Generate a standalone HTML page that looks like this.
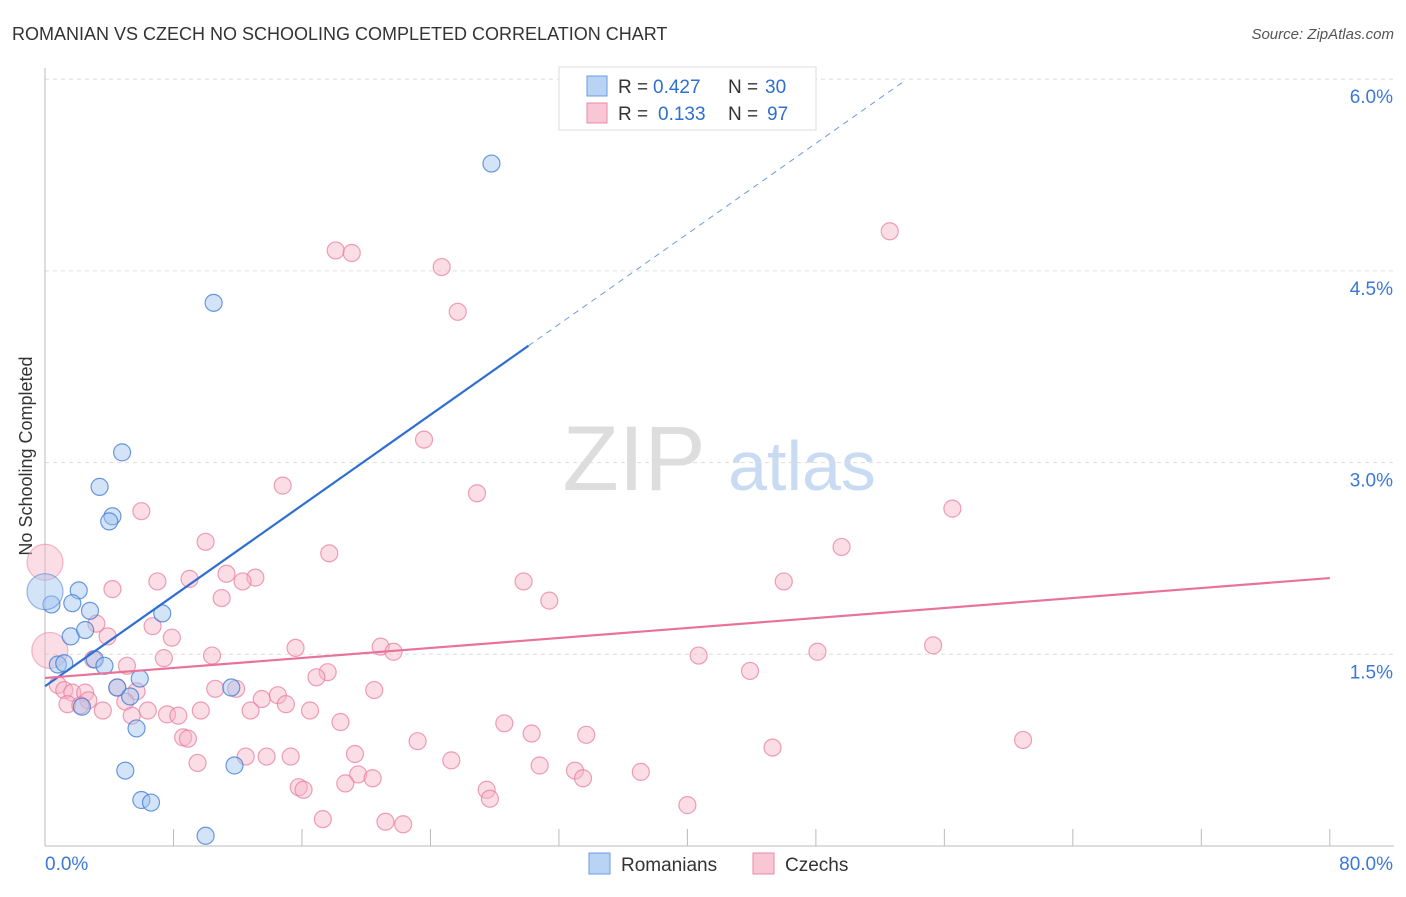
<!DOCTYPE html>
<html><head><meta charset="utf-8"><style>
body{margin:0;background:#fff;font-family:"Liberation Sans",sans-serif;}
svg text{font-family:"Liberation Sans",sans-serif;}
</style></head><body>
<svg id="chart" width="1406" height="892" xmlns="http://www.w3.org/2000/svg">
<text x="12" y="40" font-size="18" fill="#333">ROMANIAN VS CZECH NO SCHOOLING COMPLETED CORRELATION CHART</text>
<text x="1394" y="39" font-size="15" fill="#555" font-style="italic" text-anchor="end">Source: ZipAtlas.com</text>
<text x="32" y="456" font-size="18" fill="#333" text-anchor="middle" transform="rotate(-90 32 456)">No Schooling Completed</text>
<g><text x="634" y="490" font-size="92" fill="#ddd" font-family="Liberation Serif" text-anchor="middle">ZIP</text><text x="802" y="490" font-size="70" fill="#c9dbf2" text-anchor="middle">atlas</text></g>
<g id="grid"></g><g id="axes"></g><g id="pts"></g><g id="lines"></g>
<g>
<rect x="559" y="67" width="257" height="63" fill="#fff" stroke="#ddd"/>
<rect x="587" y="76" width="20" height="20" fill="#b9d3f5" stroke="#6a9be0"/>
<rect x="587" y="103" width="20" height="20" fill="#f8c6d4" stroke="#e88aa6"/>
<text x="618" y="93" font-size="19" fill="#333">R =</text>
<text x="653" y="93" font-size="19" fill="#2f6fd1">0.427</text>
<text x="728" y="93" font-size="19" fill="#333">N =</text>
<text x="765" y="93" font-size="19" fill="#2f6fd1">30</text>
<text x="618" y="120" font-size="19" fill="#333">R =</text>
<text x="658" y="120" font-size="19" fill="#2f6fd1">0.133</text>
<text x="728" y="120" font-size="19" fill="#333">N =</text>
<text x="767" y="120" font-size="19" fill="#2f6fd1">97</text>
</g>
<g>
<rect x="589" y="853" width="21" height="21" fill="#b9d3f5" stroke="#6a9be0"/>
<text x="621" y="871" font-size="19" fill="#333">Romanians</text>
<rect x="753" y="853" width="21" height="21" fill="#f8c6d4" stroke="#e88aa6"/>
<text x="785" y="871" font-size="19" fill="#333">Czechs</text>
</g>
</svg>
<script>
const xTicks=[0,8,16,24,32,40,48,56,64,72,80];
const yTicks=[1.5,3.0,4.5,6.0];
const romX=[27.8,10.5,4.8,3.4,4.2,4.0,2.1,0.4,1.7,2.8,7.3,1.6,2.5,0.8,1.2,3.1,3.7,5.9,4.5,5.3,2.3,11.6,5.7,5.0,11.8,6.0,6.6,10.0];
const romY=[5.34,4.25,3.08,2.81,2.58,2.54,2.0,1.89,1.90,1.84,1.82,1.64,1.69,1.42,1.43,1.46,1.41,1.31,1.24,1.17,1.09,1.24,0.92,0.59,0.63,0.36,0.34,0.08];
const czX=[52.6,18.1,19.1,24.7,25.7,23.6,14.8,26.9,56.5,6.0,10.0,17.7,49.6,7.0,9.0,11.3,13.1,12.3,29.8,46.0,4.2,11.0,31.4,6.7,3.2,7.9,3.9,20.9,21.7,15.6,10.4,7.4,40.7,48.1,55.3,43.9,5.1,17.6,16.9,3.0,0.8,1.2,1.7,2.5,2.7,1.4,2.2,3.6,4.5,5.7,5.0,6.4,5.4,7.6,8.3,9.7,10.6,11.9,13.5,14.5,15.0,12.8,16.5,20.5,18.4,28.6,30.3,33.7,8.6,8.9,23.2,45.3,60.9,12.5,13.8,15.3,19.3,9.5,25.3,30.8,19.5,20.4,18.7,33.0,33.5,37.1,15.8,16.1,27.5,27.7,40.0,17.3,21.2,22.3];
const czY=[4.81,4.66,4.64,4.53,4.18,3.18,2.82,2.76,2.64,2.62,2.38,2.29,2.34,2.07,2.09,2.13,2.10,2.07,2.07,2.07,2.01,1.94,1.92,1.72,1.74,1.63,1.64,1.56,1.52,1.55,1.49,1.47,1.49,1.52,1.57,1.37,1.41,1.36,1.32,1.46,1.26,1.22,1.20,1.20,1.14,1.11,1.10,1.06,1.24,1.21,1.13,1.06,1.02,1.03,1.02,1.06,1.23,1.23,1.15,1.18,1.11,1.06,1.06,1.22,0.97,0.96,0.88,0.87,0.85,0.84,0.82,0.77,0.83,0.70,0.70,0.70,0.72,0.65,0.67,0.63,0.56,0.53,0.49,0.59,0.53,0.58,0.46,0.44,0.44,0.37,0.32,0.21,0.19,0.17];
const bigRomX=[0.0], bigRomY=[1.99];
const bigCzX=[0.0,0.3], bigCzY=[2.22,1.53];
const romTrend=[1.25,0.0885], romSolidEnd=30.1, romDashEnd=53.6;
const czTrend=[1.315,0.00977], czEnd=80;
const X=v=>45+v*16.06, Y=v=>846-v*127.8;
const NS='http://www.w3.org/2000/svg';
function mk(t,a,p){const e=document.createElementNS(NS,t);for(const k in a)e.setAttribute(k,a[k]);document.getElementById(p).appendChild(e);return e;}
yTicks.forEach(v=>{
const l=mk('line',{x1:45,x2:1394,y1:Y(v),y2:Y(v),stroke:'#ddd','stroke-dasharray':'4 4'},'grid');


const t=mk('text',{x:1393,y:Y(v)+24,'font-size':19,fill:'#3b78d8','text-anchor':'end'},'axes');t.textContent=v.toFixed(1)+'%';


});
mk('line',{x1:45,x2:45,y1:68,y2:846,stroke:'#bbb'},'axes');
const xa=mk('line',{x1:45,x2:1394,y1:846,y2:846,stroke:'#bbb'},'axes');


xTicks.forEach(v=>{const t=mk('line',{x1:X(v),x2:X(v),y1:829,y2:846,stroke:'#bbb'},'axes');

});
const l0=mk('text',{x:45,y:870,'font-size':19,fill:'#3b78d8'},'axes');l0.textContent=xTicks[0].toFixed(1)+'%';


const l1=mk('text',{x:1393,y:870,'font-size':19,fill:'#3b78d8','text-anchor':'end'},'axes');l1.textContent=xTicks[xTicks.length-1].toFixed(1)+'%';


function dots(xs,ys,r,fill,stroke,name){xs.forEach((x,i)=>{const c=mk('circle',{cx:X(x),cy:Y(ys[i]),r:r,fill:fill,stroke:stroke,'stroke-width':1.2},'pts');

});}
dots(czX,czY,8.5,'rgba(246,180,200,0.45)','rgba(232,120,155,0.7)','czech-point');
dots(bigCzX,bigCzY,18,'rgba(246,180,200,0.45)','rgba(232,120,155,0.5)','czech-point-large');
dots(romX,romY,8.5,'rgba(160,195,240,0.45)','rgba(60,120,210,0.75)','romanian-point');
dots(bigRomX,bigRomY,18,'rgba(160,195,240,0.45)','rgba(60,120,210,0.5)','romanian-point-large');
const f=(t,x)=>t[0]+t[1]*x;
const a=mk('line',{x1:X(0),y1:Y(f(romTrend,0)),x2:X(romSolidEnd),y2:Y(f(romTrend,romSolidEnd)),stroke:'#2f6fd1','stroke-width':2.2},'lines');


const b=mk('line',{x1:X(romSolidEnd),y1:Y(f(romTrend,romSolidEnd)),x2:X(romDashEnd),y2:Y(f(romTrend,romDashEnd)),stroke:'#6a9be0','stroke-width':1,'stroke-dasharray':'6 5'},'lines');


const c=mk('line',{x1:X(0),y1:Y(f(czTrend,0)),x2:X(czEnd),y2:Y(f(czTrend,czEnd)),stroke:'#e8739a','stroke-width':2.2},'lines');


</script>
</body></html>
